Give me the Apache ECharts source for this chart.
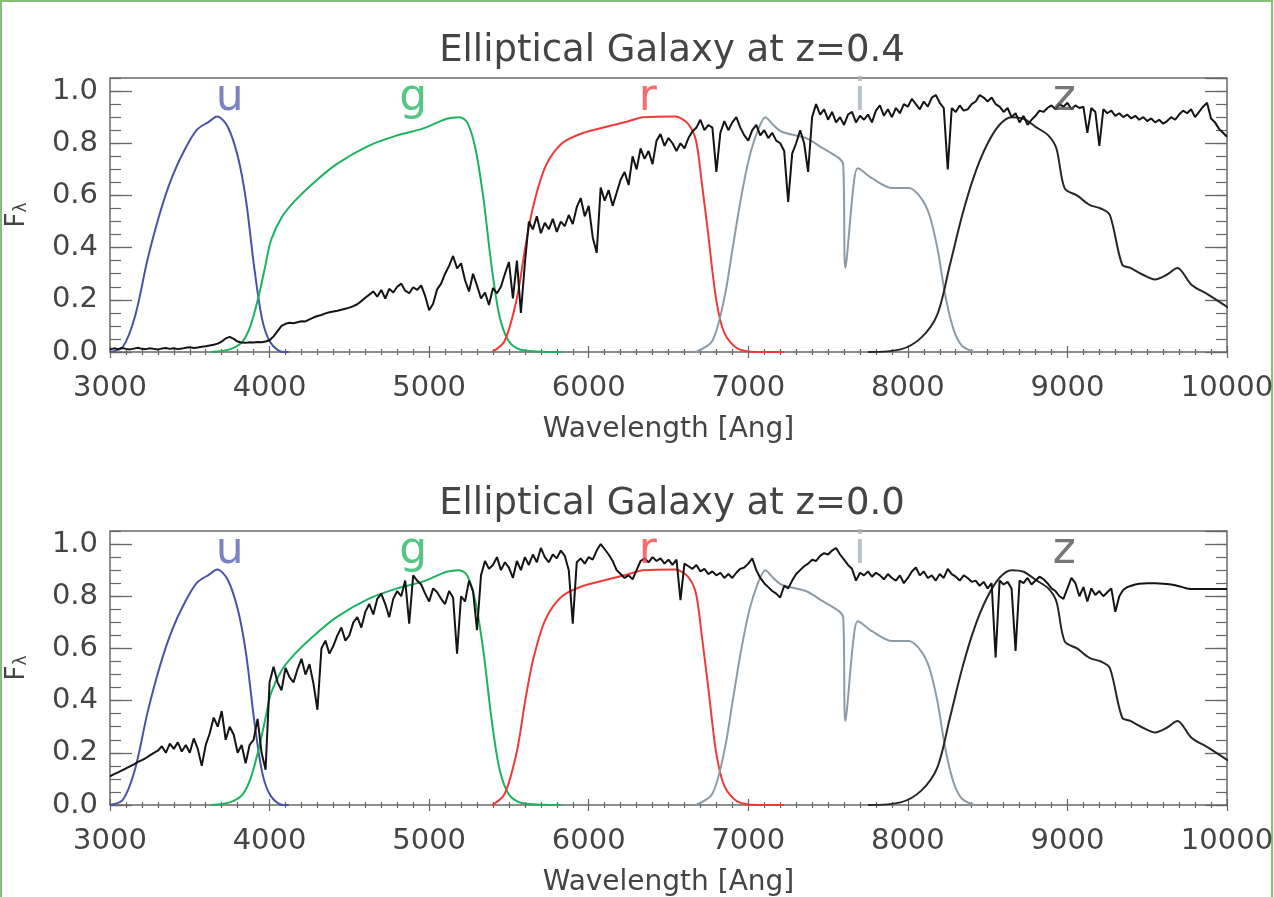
<!DOCTYPE html>
<html>
<head>
<meta charset="utf-8">
<script src="https://cdn.jsdelivr.net/npm/echarts@6/dist/echarts.min.js"></script>
<style>
html,body{margin:0;padding:0;background:#fff;}
#chart{width:1274px;height:897px;}
</style>
</head>
<body>
<div id="chart"></div>
<script>
// ---------------- data ----------------
const panelTitles = ['Elliptical Galaxy at z=0.4', 'Elliptical Galaxy at z=0.0'];
const xTickValues = [3000, 4000, 5000, 6000, 7000, 8000, 9000, 10000];
const yTickValues = [0.0, 0.2, 0.4, 0.6, 0.8, 1.0];

// galaxy spectra sampled every 25 Angstrom from 3000 to 10000
const specStart = 3000;
const specStep = 25;
const specZ04 = [
  0.010, 0.014, 0.011, 0.015, 0.012, 0.010, 0.013, 0.016, 0.012, 0.011, 0.014, 0.012, 0.010, 0.013, 0.015, 0.012, 0.014, 0.011, 0.013, 0.016,
  0.018, 0.015, 0.017, 0.020, 0.022, 0.025, 0.028, 0.032, 0.040, 0.052, 0.058, 0.050, 0.040, 0.036, 0.035, 0.037, 0.036, 0.038, 0.037, 0.040,
  0.045, 0.060, 0.080, 0.100, 0.108, 0.112, 0.110, 0.114, 0.118, 0.117, 0.125, 0.132, 0.138, 0.142, 0.148, 0.152, 0.155, 0.158, 0.162, 0.166,
  0.170, 0.176, 0.183, 0.195, 0.208, 0.220, 0.232, 0.212, 0.238, 0.205, 0.242, 0.228, 0.250, 0.262, 0.235, 0.225, 0.248, 0.238, 0.255, 0.215,
  0.160, 0.185, 0.240, 0.262, 0.300, 0.330, 0.368, 0.320, 0.340, 0.275, 0.232, 0.300, 0.255, 0.205, 0.228, 0.180, 0.245, 0.225, 0.250, 0.300,
  0.345, 0.205, 0.350, 0.150, 0.340, 0.500, 0.470, 0.520, 0.455, 0.495, 0.470, 0.510, 0.460, 0.500, 0.482, 0.525, 0.490, 0.555, 0.590, 0.520,
  0.560, 0.440, 0.380, 0.630, 0.580, 0.620, 0.560, 0.610, 0.660, 0.690, 0.640, 0.750, 0.700, 0.780, 0.740, 0.770, 0.720, 0.810, 0.835, 0.790,
  0.820, 0.800, 0.770, 0.800, 0.780, 0.820, 0.845, 0.860, 0.890, 0.850, 0.870, 0.860, 0.690, 0.840, 0.885, 0.850, 0.880, 0.900, 0.860, 0.830,
  0.810, 0.850, 0.870, 0.830, 0.850, 0.820, 0.840, 0.810, 0.800, 0.770, 0.575, 0.760, 0.800, 0.850, 0.800, 0.690, 0.900, 0.950, 0.910, 0.930,
  0.890, 0.920, 0.880, 0.900, 0.870, 0.910, 0.920, 0.880, 0.905, 0.890, 0.910, 0.880, 0.925, 0.945, 0.905, 0.930, 0.900, 0.935, 0.915, 0.950,
  0.940, 0.970, 0.950, 0.930, 0.960, 0.940, 0.975, 0.985, 0.955, 0.935, 0.700, 0.935, 0.920, 0.945, 0.925, 0.930, 0.950, 0.960, 0.985, 0.975,
  0.960, 0.975, 0.950, 0.940, 0.920, 0.935, 0.900, 0.915, 0.880, 0.905, 0.870, 0.890, 0.905, 0.925, 0.920, 0.935, 0.945, 0.930, 0.950, 0.940,
  0.955, 0.930, 0.945, 0.935, 0.940, 0.840, 0.935, 0.920, 0.790, 0.930, 0.915, 0.925, 0.905, 0.915, 0.900, 0.910, 0.895, 0.905, 0.890, 0.900,
  0.885, 0.895, 0.880, 0.890, 0.875, 0.885, 0.900, 0.890, 0.910, 0.925, 0.915, 0.930, 0.900, 0.920, 0.940, 0.955, 0.895, 0.880, 0.855, 0.840,
  0.825
];
const specZ00 = [
  0.110, 0.118, 0.125, 0.133, 0.140, 0.148, 0.156, 0.165, 0.172, 0.180, 0.190, 0.200, 0.208, 0.225, 0.200, 0.235, 0.215, 0.240, 0.205, 0.230,
  0.200, 0.255, 0.215, 0.150, 0.230, 0.275, 0.335, 0.300, 0.360, 0.250, 0.300, 0.270, 0.200, 0.230, 0.160, 0.230, 0.250, 0.330, 0.200, 0.135,
  0.470, 0.530, 0.470, 0.440, 0.525, 0.490, 0.470, 0.520, 0.560, 0.500, 0.540, 0.465, 0.365, 0.600, 0.630, 0.580, 0.610, 0.650, 0.680, 0.630,
  0.650, 0.700, 0.720, 0.680, 0.740, 0.770, 0.730, 0.790, 0.810, 0.770, 0.720, 0.790, 0.820, 0.800, 0.860, 0.695, 0.880, 0.860, 0.845, 0.810,
  0.780, 0.830, 0.815, 0.790, 0.770, 0.820, 0.795, 0.580, 0.800, 0.780, 0.860, 0.820, 0.670, 0.880, 0.935, 0.905, 0.920, 0.950, 0.900, 0.930,
  0.910, 0.870, 0.935, 0.900, 0.950, 0.920, 0.960, 0.930, 0.985, 0.950, 0.930, 0.960, 0.945, 0.975, 0.955, 0.900, 0.695, 0.930, 0.945, 0.925,
  0.950, 0.940, 0.975, 1.000, 0.980, 0.960, 0.935, 0.900, 0.885, 0.870, 0.880, 0.865, 0.900, 0.935, 0.945, 0.930, 0.950, 0.935, 0.945, 0.925,
  0.940, 0.920, 0.940, 0.785, 0.925, 0.915, 0.905, 0.920, 0.895, 0.905, 0.885, 0.895, 0.880, 0.890, 0.870, 0.885, 0.870, 0.890, 0.905, 0.910,
  0.925, 0.945, 0.900, 0.870, 0.850, 0.835, 0.820, 0.810, 0.795, 0.840, 0.830, 0.860, 0.885, 0.900, 0.915, 0.925, 0.940, 0.935, 0.955, 0.965,
  0.960, 0.975, 0.985, 0.960, 0.940, 0.920, 0.905, 0.860, 0.890, 0.880, 0.895, 0.875, 0.890, 0.880, 0.865, 0.885, 0.870, 0.860, 0.880, 0.850,
  0.870, 0.895, 0.910, 0.880, 0.895, 0.870, 0.880, 0.860, 0.885, 0.870, 0.905, 0.885, 0.875, 0.860, 0.880, 0.870, 0.855, 0.860, 0.840, 0.855,
  0.830, 0.850, 0.565, 0.860, 0.845, 0.855, 0.830, 0.590, 0.860, 0.850, 0.870, 0.845, 0.860, 0.875, 0.865, 0.850, 0.830, 0.820, 0.800, 0.790,
  0.830, 0.870, 0.850, 0.800, 0.835, 0.780, 0.830, 0.805, 0.820, 0.800, 0.815, 0.830, 0.740, 0.800, 0.825, 0.835, 0.840, 0.845, 0.848, 0.849,
  0.850, 0.850, 0.850, 0.849, 0.848, 0.847, 0.845, 0.842, 0.838, 0.834, 0.830, 0.828, 0.828, 0.828, 0.828, 0.828, 0.828, 0.828, 0.828, 0.828,
  0.828
];

// SDSS filter response curves (same in both panels)
const uWave = [3000, 3081, 3157, 3235, 3313, 3390, 3467, 3544, 3621, 3672, 3737, 3801, 3852, 3903, 3954, 4006, 4083, 4120];
const uResp = [0.0, 0.02, 0.137, 0.354, 0.533, 0.672, 0.774, 0.851, 0.883, 0.902, 0.864, 0.749, 0.583, 0.328, 0.124, 0.036, 0.0, 0.0];
const gWave = [3633, 3750, 3830, 3880, 3930, 3970, 4010, 4080, 4160, 4270, 4420, 4620, 4800, 4960, 5110, 5190, 5240, 5290, 5340, 5390, 5440, 5500, 5580, 5830];
const gResp = [0.0, 0.01, 0.04, 0.1, 0.21, 0.32, 0.43, 0.52, 0.58, 0.645, 0.72, 0.79, 0.83, 0.856, 0.894, 0.9, 0.878, 0.78, 0.59, 0.335, 0.14, 0.04, 0.008, 0.0];
const rWave = [5396, 5473, 5550, 5601, 5653, 5730, 5833, 5962, 6116, 6244, 6342, 6542, 6619, 6671, 6709, 6748, 6799, 6850, 6928, 7057, 7223];
const rResp = [0.0, 0.042, 0.206, 0.396, 0.56, 0.712, 0.80, 0.839, 0.864, 0.883, 0.9, 0.902, 0.877, 0.813, 0.647, 0.456, 0.2, 0.073, 0.015, 0.0, 0.0];
const iWave = [6671, 6774, 6850, 6902, 6954, 7005, 7057, 7107, 7157, 7210, 7364, 7467, 7570, 7595, 7608, 7660, 7686, 7775, 7903, 8007, 8084, 8135, 8185, 8238, 8290, 8341, 8417];
const iResp = [0.0, 0.042, 0.207, 0.398, 0.589, 0.742, 0.844, 0.9, 0.87, 0.844, 0.819, 0.781, 0.742, 0.717, 0.322, 0.64, 0.704, 0.666, 0.628, 0.628, 0.589, 0.525, 0.398, 0.206, 0.08, 0.023, 0.0];
const zWave = [7750, 7955, 8084, 8185, 8264, 8341, 8417, 8495, 8572, 8649, 8725, 8803, 8880, 8931, 8983, 9060, 9138, 9213, 9266, 9343, 9395, 9470, 9548, 9625, 9689, 9777, 9882, 10008];
const zResp = [0.0, 0.01, 0.055, 0.144, 0.335, 0.525, 0.678, 0.793, 0.869, 0.9, 0.894, 0.862, 0.83, 0.78, 0.627, 0.6, 0.564, 0.549, 0.525, 0.335, 0.322, 0.297, 0.278, 0.297, 0.322, 0.258, 0.22, 0.17];

const bandNames = ['u', 'g', 'r', 'i', 'z'];
const bandLabelWave = [3750, 4900, 6370, 7700, 8980];
const bandLabelLevel = 0.972;

// ---------------- styling ----------------
const FONT = 'DejaVu Sans';
const TEXT = '#444';
const AXC = '#666';
const bandLineColors = ['#4a52a8', '#1cb35e', '#f03a3a', '#8d9ba6', '#262626'];
const bandTextColors = ['#5a63b4', '#2bb868', '#f24848', '#aab3bb', '#555555'];
const gridTops = [78, 531];
const gridH = 274;

function pairs(w, r) { return w.map((x, i) => [x, r[i]]); }
function specPairs(arr) { return arr.map((v, i) => [specStart + i * specStep, v]); }
const filterData = [pairs(uWave, uResp), pairs(gWave, gResp), pairs(rWave, rResp), pairs(iWave, iResp), pairs(zWave, zResp)];
const spectra = [specPairs(specZ04), specPairs(specZ00)];

const grids = [], xAxes = [], yAxes = [], series = [], titles = [];
[0, 1].forEach(g => {
  grids.push({left: 110, right: 47, top: gridTops[g], height: gridH, show: true,
    outerBoundsMode: 'none', containLabel: false,
    borderColor: '#6a6a6a', borderWidth: 1.5, backgroundColor: 'transparent'});
  titles.push({text: panelTitles[g], left: 667, top: gridTops[g] - 50, textAlign: 'center',
    textStyle: {fontFamily: FONT, fontSize: 37, fontWeight: 'normal', color: TEXT}});
  const xBase = {gridIndex: g, type: 'value', min: xTickValues[0], max: xTickValues[xTickValues.length - 1],
    interval: 1000, axisLine: {show: false}, splitLine: {show: false},
    axisTick: {show: true, inside: true, length: 6, lineStyle: {color: AXC, width: 1.2}},
    minorTick: {show: true, splitNumber: 10, length: 3, lineStyle: {color: AXC, width: 1.2}}};
  xAxes.push(Object.assign({}, xBase, {position: 'bottom',
    axisLabel: {fontFamily: FONT, fontSize: 29, color: TEXT, margin: 22, formatter: v => String(v)},
    name: 'Wavelength [Ang]', nameLocation: 'middle', nameGap: 64,
    nameTextStyle: {fontFamily: FONT, fontSize: 28, color: TEXT}}));
  xAxes.push(Object.assign({}, xBase, {position: 'top', axisLabel: {show: false}}));
  const yBase = {gridIndex: g, type: 'value', min: 0, max: 1.05, axisLine: {show: false}, splitLine: {show: false}};
  yAxes.push(Object.assign({}, yBase, {position: 'left', interval: 0.2,
    axisTick: {show: true, inside: true, length: 22, lineStyle: {color: AXC, width: 1.3}},
    axisLabel: {fontFamily: FONT, fontSize: 29, color: TEXT, margin: 12, showMaxLabel: false,
      formatter: v => yTickValues.some(t => Math.abs(t - v) < 1e-6) ? v.toFixed(1) : ''},
    name: '{f|F}{l|λ}', nameLocation: 'middle', nameRotate: 90, nameGap: 80,
    nameTextStyle: {rich: {
      f: {fontFamily: FONT, fontSize: 26, color: TEXT},
      l: {fontFamily: FONT, fontSize: 17, color: TEXT, verticalAlign: 'bottom'}}}}));
  yAxes.push(Object.assign({}, yBase, {position: 'left', interval: 0.05, axisLabel: {show: false},
    axisTick: {show: true, inside: true, length: 11, lineStyle: {color: AXC, width: 1.2}}}));
  yAxes.push(Object.assign({}, yBase, {position: 'right', interval: 0.2, axisLabel: {show: false},
    axisTick: {show: true, inside: true, length: 22, lineStyle: {color: AXC, width: 1.3}}}));
  yAxes.push(Object.assign({}, yBase, {position: 'right', interval: 0.05, axisLabel: {show: false},
    axisTick: {show: true, inside: true, length: 11, lineStyle: {color: AXC, width: 1.2}}}));

  filterData.forEach((d, k) => {
    series.push({type: 'line', name: bandNames[k], xAxisIndex: 2 * g, yAxisIndex: 4 * g, data: d,
      symbol: 'none', smooth: 0.3, lineStyle: {color: bandLineColors[k], width: 2}, z: 2, silent: true});
  });
  series.push({type: 'line', name: 'spectrum', xAxisIndex: 2 * g, yAxisIndex: 4 * g, data: spectra[g],
    symbol: 'none', lineStyle: {color: '#141414', width: 2}, z: 3, silent: true});
  series.push({type: 'scatter', xAxisIndex: 2 * g, yAxisIndex: 4 * g, symbolSize: 0, silent: true, z: 4,
    data: bandNames.map((n, k) => ({name: n, value: [bandLabelWave[k], bandLabelLevel],
      label: {color: bandTextColors[k]}})),
    label: {show: true, position: 'inside', formatter: p => p.name, fontFamily: FONT, fontSize: 44}});
});

const chart = echarts.init(document.getElementById('chart'), null, {renderer: 'canvas'});
chart.setOption({
  animation: false,
  backgroundColor: '#ffffff',
  title: titles,
  grid: grids,
  xAxis: xAxes,
  yAxis: yAxes,
  series: series,
  graphic: [{type: 'rect', silent: true, shape: {x: 1, y: 1, width: 1271, height: 905},
    style: {fill: 'none', stroke: '#86bf78', lineWidth: 2}}]
});
</script>
</body>
</html>
